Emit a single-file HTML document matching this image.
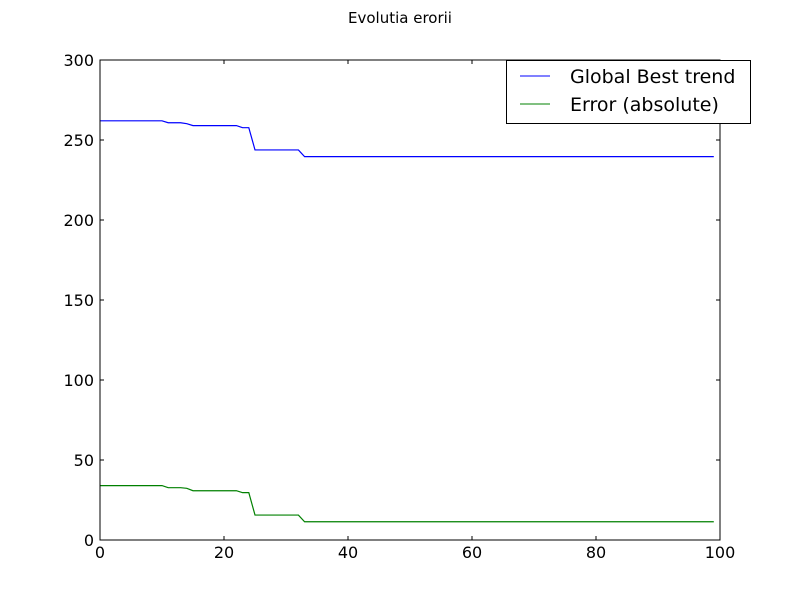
<!DOCTYPE html>
<html><head><meta charset="utf-8"><style>
body{margin:0;background:#fff}
svg{display:block;font-family:"DejaVu Sans","Liberation Sans",sans-serif}
</style></head><body>
<svg id="chart" width="800" height="600">
<rect width="800" height="600" fill="#fff"/>
<text x="400" y="23" text-anchor="middle" font-size="15">Evolutia erorii</text>
<g id="ticks"></g>
<g id="lines"></g>
<rect x="100" y="60" width="620" height="480" fill="none" stroke="#000" stroke-width="1"/>
<g>
<rect x="506.5" y="60.5" width="244" height="63" fill="#fff" stroke="#000"/>
<line x1="520" y1="76" x2="550" y2="76" stroke="#0000ff"/>
<text x="570" y="83" font-size="19">Global Best trend</text>
<line x1="520" y1="104" x2="550" y2="104" stroke="#008000"/>
<text x="570" y="111" font-size="19">Error (absolute)</text>
</g>
</svg>
<script>
const xTicks=[0,20,40,60,80,100];
const yTicks=[0,50,100,150,200,250,300];
// step segments: [startIndex, value]
const bestSteps=[[0,262],[11,260.8],[14,260.2],[15,259],[23,257.7],[25,243.8],[33,239.6]];
const errSteps=[[0,34],[11,32.7],[14,32.3],[15,30.8],[23,29.6],[25,15.6],[33,11.4]];
const N=100;
function expand(steps){const a=[];for(let i=0;i<N;i++){let v=steps[0][1];for(const s of steps)if(i>=s[0])v=s[1];a.push(v);}return a;}
const bestVals=expand(bestSteps);
const errVals=expand(errSteps);
const X=v=>100+v*6.2, Y=v=>540-v*1.6;
const NS="http://www.w3.org/2000/svg";
const tg=document.getElementById('ticks'), lg=document.getElementById('lines');
function mk(tag,attrs,parent){const e=document.createElementNS(NS,tag);for(const k in attrs)e.setAttribute(k,attrs[k]);parent.appendChild(e);return e;}
xTicks.forEach(t=>{
 const x=X(t);
 const l1=mk('line',{x1:x,y1:540,x2:x,y2:536,stroke:'#000'},tg);
 
 
 mk('line',{x1:x,y1:60,x2:x,y2:64,stroke:'#000'},tg);
 const tx=mk('text',{x:x,y:558,'text-anchor':'middle','font-size':'16'},tg);tx.textContent=t;
 
 
});
yTicks.forEach(t=>{
 const y=Y(t);
 const l1=mk('line',{x1:100,y1:y,x2:104,y2:y,stroke:'#000'},tg);
 
 
 mk('line',{x1:720,y1:y,x2:716,y2:y,stroke:'#000'},tg);
 const tx=mk('text',{x:94,y:y+6,'text-anchor':'end','font-size':'16'},tg);tx.textContent=t;
 
 
});
function line(vals,color,name){
 const p=mk('polyline',{points:vals.map((v,i)=>X(i)+','+Y(v)).join(' '),fill:'none',stroke:color,'stroke-width':'1.2'},lg);
 
 
}
line(bestVals,'#0000ff','global-best-line');
line(errVals,'#008000','error-line');
</script>
</body></html>
